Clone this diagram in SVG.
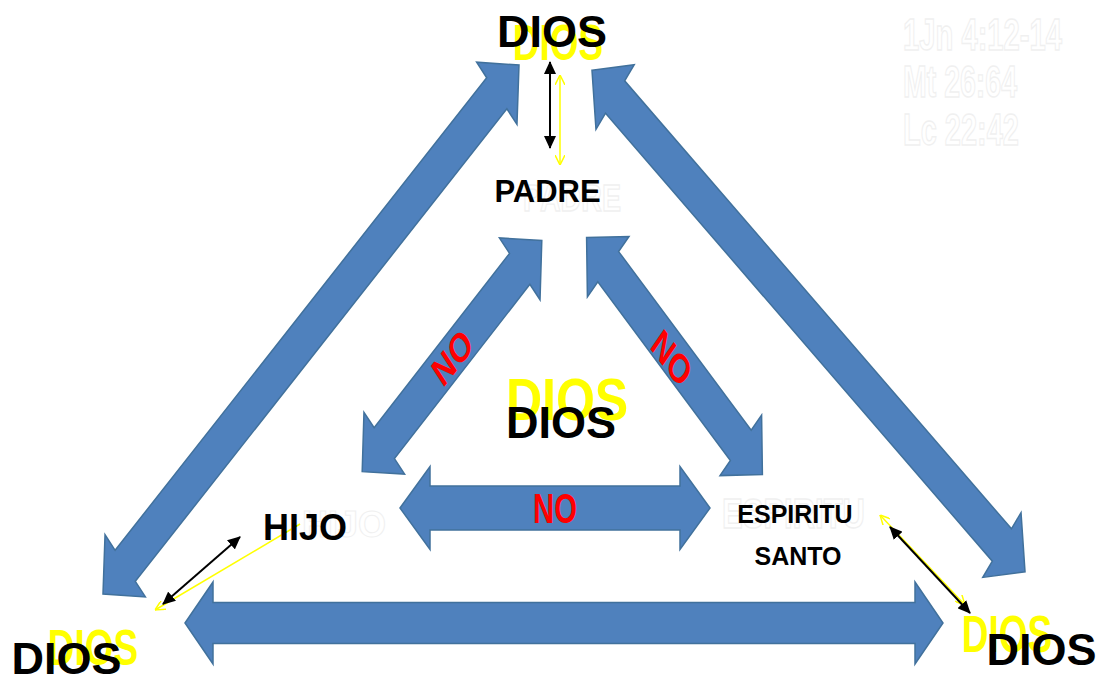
<svg xmlns="http://www.w3.org/2000/svg" width="1104" height="679" viewBox="0 0 1104 679">
<style>
.arr{fill:#4f81bd;stroke:#41719c;stroke-width:1.5}
.blk{font-family:"Liberation Sans",Arial,sans-serif;font-weight:bold;fill:#000;text-anchor:middle}
.yel{font-family:"Liberation Sans",Arial,sans-serif;font-weight:bold;fill:#ffff00;text-anchor:middle}
.red{font-family:"Liberation Sans",Arial,sans-serif;font-weight:bold;fill:#ff0000;text-anchor:middle}
.ghost{font-family:"Liberation Sans",Arial,sans-serif;font-weight:bold;fill:#fff;stroke:#f0f0f0;stroke-width:1}
.bl{stroke:#000;stroke-width:2;fill:none}
.yl{stroke:#ffff00;stroke-width:1.5;fill:none}
</style>
<defs>
<marker id="mb" viewBox="0 0 13 12" refX="12" refY="6" markerWidth="13" markerHeight="12" markerUnits="userSpaceOnUse" orient="auto-start-reverse"><path d="M0,0 L13,6 L0,12 z" fill="#000"/></marker>
<marker id="my" viewBox="0 0 10 10" refX="10" refY="5" markerWidth="10" markerHeight="10" markerUnits="userSpaceOnUse" orient="auto-start-reverse"><path d="M0,0 L10,5 L0,10" fill="none" stroke="#ffff00" stroke-width="1.5"/></marker>
</defs>
<rect width="1104" height="679" fill="#fff"/>
<g id="references">
<text class="ghost" font-size="32" textLength="159" lengthAdjust="spacingAndGlyphs" transform="translate(903,50) scale(1,1.4)">1Jn 4:12-14</text>
<text class="ghost" font-size="32" textLength="114" lengthAdjust="spacingAndGlyphs" transform="translate(903,97) scale(1,1.4)">Mt 26:64</text>
<text class="ghost" font-size="32" textLength="116" lengthAdjust="spacingAndGlyphs" transform="translate(903,145) scale(1,1.4)">Lc 22:42</text>
</g>
<g id="connectors">
<g transform="scale(1,1.4)">
<polygon class="arr" vector-effect="non-scaling-stroke" transform="translate(311,235.4) rotate(-42.25)" points="-281,0 -251,-30 -251,-15 251,-15 251,-30 281,0 251,30 251,15 -251,15 -251,30"/>
<polygon class="arr" vector-effect="non-scaling-stroke" transform="translate(808.5,229.3) rotate(39.6)" points="-281,0 -251,-30 -251,-15 251,-15 251,-30 281,0 251,30 251,15 -251,15 -251,30"/>
<polygon class="arr" vector-effect="non-scaling-stroke" transform="translate(452,254.3) rotate(-42.6)" points="-122,0 -92,-30 -92,-15 92,-15 92,-30 122,0 92,30 92,15 -92,15 -92,30"/>
<polygon class="arr" vector-effect="non-scaling-stroke" transform="translate(674.5,254.3) rotate(43.9)" points="-122,0 -92,-30 -92,-15 92,-15 92,-30 122,0 92,30 92,15 -92,15 -92,30"/>
<text class="red" font-size="29" transform="translate(452,255) rotate(-42.6)" y="10.5">NO</text>
<text class="red" font-size="29" transform="translate(672,255.5) rotate(43.9)" y="10.5">NO</text>
</g>
<polygon class="arr" points="185,623 213,582 213,602.5 915,602.5 915,582 943,623 915,664 915,643.5 213,643.5 213,664"/>
<polygon class="arr" points="400,508 430,466.5 430,486 680,486 680,466.5 710,508 680,549.5 680,530 430,530 430,549.5"/>
<text class="red" font-size="29.3" transform="translate(555,523) scale(1,1.43)">NO</text>
<line class="yl" x1="560" y1="75" x2="560" y2="165" marker-start="url(#my)" marker-end="url(#my)"/>
<line class="bl" x1="550" y1="62" x2="550" y2="148" marker-start="url(#mb)" marker-end="url(#mb)"/>
<line class="yl" x1="300" y1="524" x2="155" y2="610" marker-end="url(#my)"/>
<line class="bl" x1="240" y1="537" x2="163" y2="604" marker-start="url(#mb)" marker-end="url(#mb)"/>
<line class="yl" x1="880" y1="515" x2="965" y2="605" marker-start="url(#my)" marker-end="url(#my)"/>
<line class="bl" x1="890" y1="527" x2="970" y2="613" marker-start="url(#mb)" marker-end="url(#mb)"/>
</g>
<g id="dios-top">
<text class="yel" font-size="37" transform="translate(558,60) scale(1,1.35)">DIOS</text>
<text class="blk" font-size="45" x="552" y="47">DIOS</text>
</g>
<g id="padre">
<text class="ghost" font-size="28.6" text-anchor="middle" transform="translate(572,211) scale(1,1.3)">PADRE</text>
<text class="blk" font-size="31" x="547.5" y="202">PADRE</text>
</g>
<g id="dios-center">
<text class="yel" font-size="50" transform="translate(567,420) scale(1,1.17)">DIOS</text>
<text class="blk" font-size="45" x="561" y="438">DIOS</text>
</g>
<g id="hijo">
<text class="ghost" font-size="36" text-anchor="middle" x="344" y="537">HIJO</text>
<text class="blk" font-size="36" x="305" y="540">HIJO</text>
</g>
<g id="espiritu-santo">
<text class="ghost" font-size="31" text-anchor="middle" transform="translate(793.5,528) scale(1,1.4)">ESPIRITU</text>
<text class="blk" font-size="25" x="795" y="523">ESPIRITU</text>
<text class="blk" font-size="25" x="798" y="565">SANTO</text>
</g>
<g id="dios-left">
<text class="yel" font-size="37" transform="translate(93,665) scale(1,1.33)">DIOS</text>
<text class="blk" font-size="45" x="66.5" y="674">DIOS</text>
</g>
<g id="dios-right">
<text class="yel" font-size="37" transform="translate(1007,652) scale(1,1.4)">DIOS</text>
<text class="blk" font-size="45" x="1041.5" y="665">DIOS</text>
</g>
</svg>
